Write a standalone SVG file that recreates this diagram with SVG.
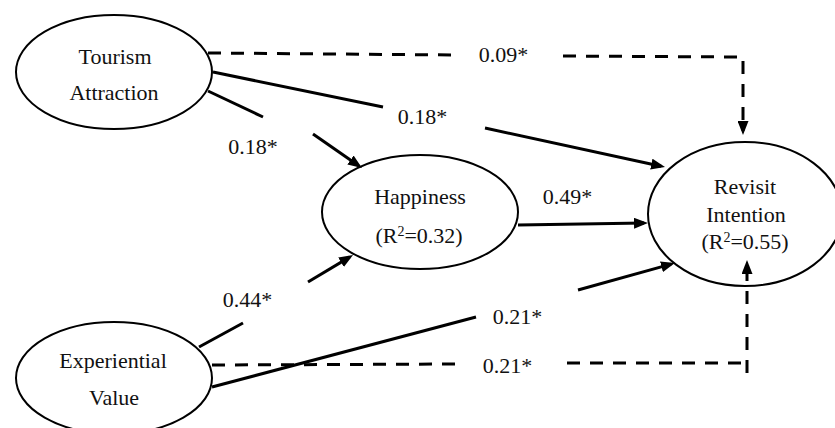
<svg xmlns="http://www.w3.org/2000/svg" width="835" height="428" viewBox="0 0 835 428">
<defs>
<style>
.node ellipse{fill:#fff;stroke:#000;stroke-width:2}
text{font-family:"Liberation Serif","Times New Roman","DejaVu Serif",serif;font-size:22px;fill:#111;text-anchor:middle}
.sup{font-size:14px}
.solid{fill:none;stroke:#000;stroke-width:3}
.dash{fill:none;stroke:#000;stroke-width:3;stroke-dasharray:13 10}
</style>
<marker id="arr" markerUnits="userSpaceOnUse" markerWidth="14" markerHeight="11" refX="10" refY="5.5" orient="auto" viewBox="0 0 14 11">
<path d="M0,0 L14,5.5 L0,11 z" fill="#000"/>
</marker>
</defs>
<rect width="835" height="428" fill="#fff"/>
<g id="tourism" class="node">
<ellipse cx="114" cy="72" rx="98" ry="57"/>
<text x="115" y="64">Tourism</text>
<text x="114" y="100">Attraction</text>
</g>
<g id="experiential" class="node">
<ellipse cx="114" cy="378" rx="98" ry="56"/>
<text x="113" y="368">Experiential</text>
<text x="114" y="405">Value</text>
</g>
<g id="happiness" class="node">
<ellipse cx="420" cy="212" rx="98" ry="57"/>
<text x="420" y="204">Happiness</text>
<text x="419" y="243">(R<tspan class="sup" dy="-7">2</tspan><tspan dy="7">=0.32)</tspan></text>
</g>
<g id="revisit" class="node">
<ellipse cx="745" cy="214" rx="97" ry="72"/>
<text x="745" y="194">Revisit</text>
<text x="746" y="222">Intention</text>
<text x="745" y="249">(R<tspan class="sup" dy="-7">2</tspan><tspan dy="7">=0.55)</tspan></text>
</g>
<g id="connectors">
<path class="solid" d="M208,91 L263,117"/>
<path class="solid" d="M313,134 L358.7,165.7" marker-end="url(#arr)"/>
<path class="solid" d="M213,72 L383,107"/>
<path class="solid" d="M485,128 L661.1,166.2" marker-end="url(#arr)"/>
<path class="solid" d="M518,225 L644,223.1" marker-end="url(#arr)"/>
<path class="solid" d="M199,347 L243,323"/>
<path class="solid" d="M308,282 L349.6,257.1" marker-end="url(#arr)"/>
<path class="solid" d="M212,387 L476,317"/>
<path class="solid" d="M578,290 L671.1,264.1" marker-end="url(#arr)"/>
<path class="dash" d="M208,53 L458,55"/>
<path class="dash" d="M563,56 L743,57 L743,131" marker-end="url(#arr)"/>
<path class="dash" d="M212,365 L460,364"/>
<path class="dash" d="M567,363 L747,363"/>
<path class="dash" d="M747,373 L747,264" marker-end="url(#arr)"/>
</g>
<g id="labels">
<text x="253" y="154">0.18*</text>
<text x="422.5" y="124">0.18*</text>
<text x="503.5" y="62">0.09*</text>
<text x="567.5" y="204">0.49*</text>
<text x="247.5" y="307">0.44*</text>
<text x="517.5" y="324">0.21*</text>
<text x="507.5" y="373">0.21*</text>
</g>
</svg>
